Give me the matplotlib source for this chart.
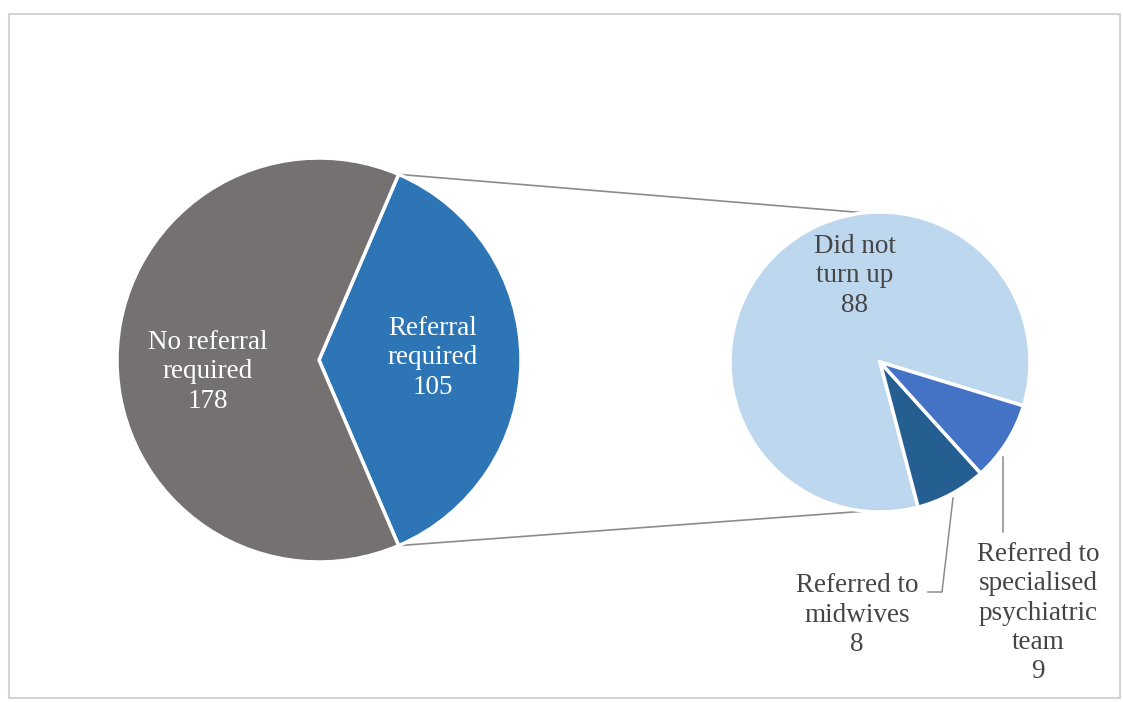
import numpy as np
import matplotlib.pyplot as plt
from matplotlib.patches import Rectangle

# main pie
main_labels = ['Referral\nrequired', 'No referral\nrequired']
main_values = [105, 178]
main_colors = ['#2E75B6', '#767171']

# breakdown of the referral slice
sub_labels = ['Did not\nturn up', 'Referred to\nmidwives', 'Referred to\nspecialised\npsychiatric\nteam']
sub_values = [88, 8, 9]
sub_colors = ['#BDD7EE', '#255E91', '#4472C4']

W, H = 1123, 702
fig = plt.figure(figsize=(W / 100, H / 100), dpi=100)
ax = fig.add_axes([0, 0, 1, 1])

serif = 'Liberation Serif'

# chart border
ax.add_patch(Rectangle((9, H - 698), 1111, 684, fill=False, edgecolor='#d4d4d4', linewidth=1.5))

# left pie, referral slice centred on the right
c1, r1 = (319, H - 360), 202
frac = main_values[0] / sum(main_values)
start1 = -frac * 180
ax.pie(main_values, colors=main_colors, center=c1, radius=r1,
       startangle=start1, counterclock=True,
       wedgeprops=dict(edgecolor='white', linewidth=2.5), frame=True)

# right pie
c2, r2 = (880, H - 362), 150
start2 = -17
ax.pie(sub_values, colors=sub_colors, center=c2, radius=r2,
       startangle=start2, counterclock=True, explode=[0, 0.06, 0.06],
       wedgeprops=dict(edgecolor='white', linewidth=2.5), frame=True)
ax.set_xlim(0, W)
ax.set_ylim(0, H)
ax.axis('off')

# connector lines from referral slice edges to second pie
a_top = np.deg2rad(start1 + frac * 360)
a_bot = np.deg2rad(start1)
p_top = (c1[0] + r1 * np.cos(a_top), c1[1] + r1 * np.sin(a_top))
p_bot = (c1[0] + r1 * np.cos(a_bot), c1[1] + r1 * np.sin(a_bot))
q_top = (c2[0] + r2 * np.cos(np.deg2rad(96)), c2[1] + r2 * np.sin(np.deg2rad(96)))
q_bot = (c2[0] + r2 * np.cos(np.deg2rad(-96)), c2[1] + r2 * np.sin(np.deg2rad(-96)))
ax.plot([p_top[0], q_top[0]], [p_top[1], q_top[1]], color='#8c8c8c', linewidth=1.2, zorder=0)
ax.plot([p_bot[0], q_bot[0]], [p_bot[1], q_bot[1]], color='#8c8c8c', linewidth=1.2, zorder=0)

fs = 19.5
ls = 1.22
ax.text(433, H - 358, f'{main_labels[0]}\n{main_values[0]}', ha='center', va='center',
        color='white', fontsize=fs, family=serif, linespacing=ls)
ax.text(208, H - 372, f'{main_labels[1]}\n{main_values[1]}', ha='center', va='center',
        color='white', fontsize=fs, family=serif, linespacing=ls)

lab_col = '#454545'
ax.text(855, H - 276, f'{sub_labels[0]}\n{sub_values[0]}', ha='center', va='center',
        color=lab_col, fontsize=fs, family=serif, linespacing=ls)
ax.text(857, H - 615, f'{sub_labels[1]}\n{sub_values[1]}', ha='center', va='center',
        color=lab_col, fontsize=fs, family=serif, linespacing=ls)
ax.text(1038, H - 613, f'{sub_labels[2]}\n{sub_values[2]}', ha='center', va='center',
        color=lab_col, fontsize=fs, family=serif, linespacing=ls)

# leader lines
ax.plot([953, 942, 928], [H - 498, H - 592, H - 592], color='#8c8c8c', linewidth=1.1)
ax.plot([1003, 1003], [H - 457, H - 532], color='#8c8c8c', linewidth=1.1)

fig.savefig('out.png', dpi=100)
